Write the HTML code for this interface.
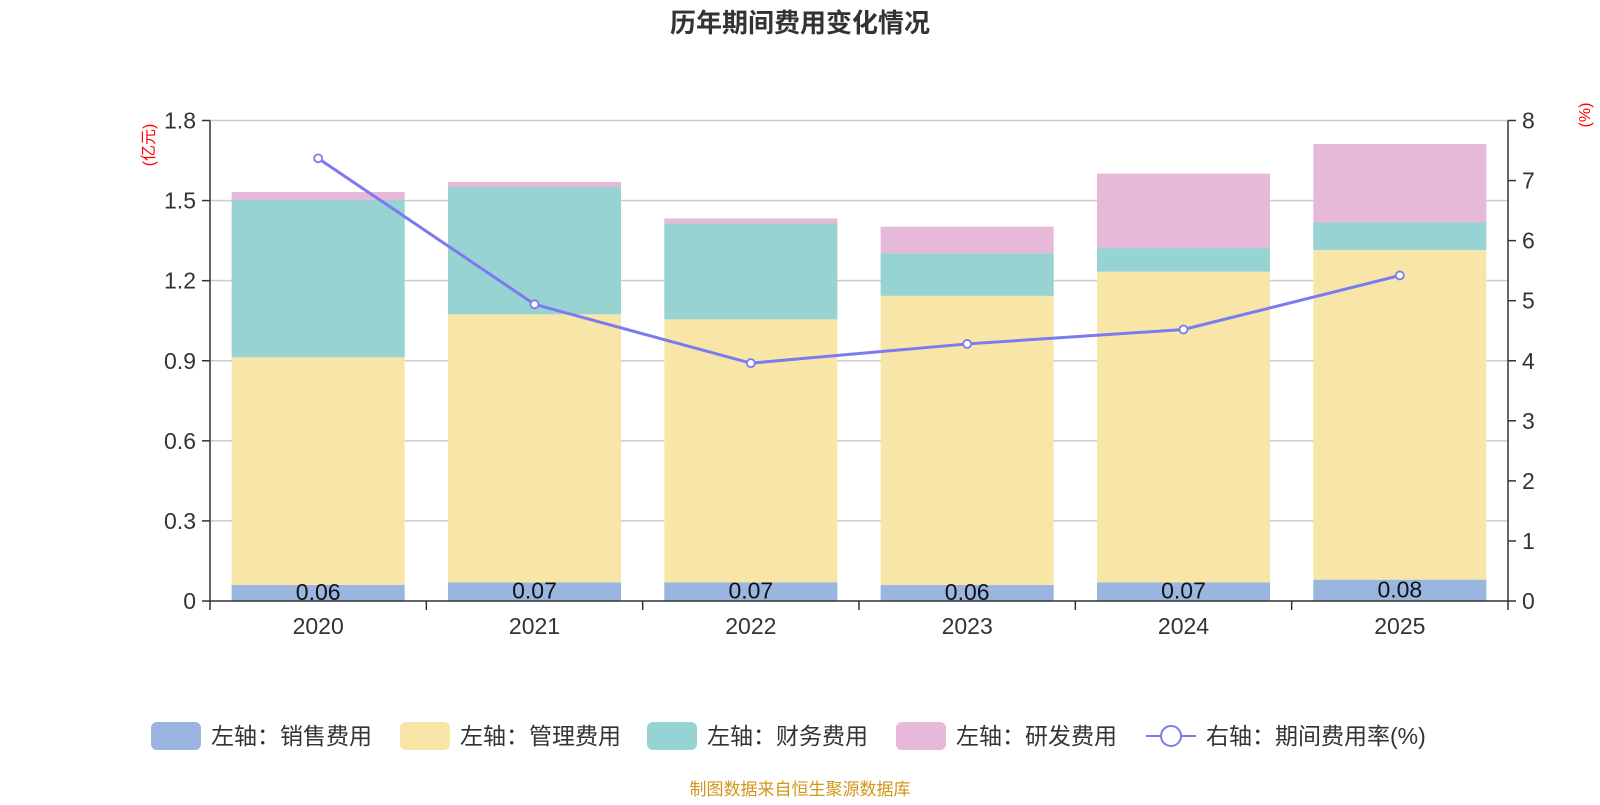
<!DOCTYPE html>
<html><head><meta charset="utf-8"><style>
body{margin:0;background:#fff;font-family:"Liberation Sans","Noto Sans CJK SC",sans-serif}
</style></head><body>
<svg id="c" width="1600" height="800" xmlns="http://www.w3.org/2000/svg">
<text x="800" y="32" text-anchor="middle" font-size="26" font-weight="bold" fill="#333" font-family="Liberation Sans,Noto Sans CJK SC,sans-serif">历年期间费用变化情况</text>
<text transform="translate(150,145) rotate(-90)" text-anchor="middle" font-size="16" fill="red" font-family="Liberation Sans,Noto Sans CJK SC,sans-serif" dominant-baseline="middle">(亿元)</text>
<text transform="translate(1586,115) rotate(-90)" text-anchor="middle" font-size="16" fill="red" font-family="Liberation Sans,Noto Sans CJK SC,sans-serif" dominant-baseline="middle">(%)</text>
<g id="grid"></g><g id="bars"></g><g id="axes"></g><g id="line"></g><g id="legend"></g>
<text x="800" y="795" text-anchor="middle" font-size="17" fill="#d4951a" font-family="Liberation Sans,Noto Sans CJK SC,sans-serif">制图数据来自恒生聚源数据库</text>
</svg>
<script>
const categories=["2020","2021","2022","2023","2024","2025"];
const sales=[0.06,0.07,0.07,0.06,0.07,0.08];
const mgmt=[0.853,1.004,0.985,1.083,1.164,1.235];
const fin=[0.589,0.477,0.359,0.16,0.088,0.103];
const rd=[0.03,0.019,0.019,0.099,0.279,0.294];
const rate=[7.37,4.94,3.96,4.28,4.52,5.42];
const leftTicks=[0,0.3,0.6,0.9,1.2,1.5,1.8];
const rightTicks=[0,1,2,3,4,5,6,7,8];
const NS="http://www.w3.org/2000/svg";
const X0=210,X1=1508,Y0=601,Y1=120.5;
const bw=(X1-X0)/categories.length;
const xc=i=>X0+bw*(i+0.5);
const yl=v=>Y0-(v/1.8)*(Y0-Y1);
const yr=v=>Y0-(v/8)*(Y0-Y1);
function mk(t,a,p){const e=document.createElementNS(NS,t);for(const k in a)e.setAttribute(k,a[k]);p.appendChild(e);return e;}
const F="Liberation Sans,Noto Sans CJK SC,sans-serif";
const grid=document.getElementById('grid'),axes=document.getElementById('axes'),bars=document.getElementById('bars'),line=document.getElementById('line'),leg=document.getElementById('legend');
leftTicks.forEach(v=>{
 if(v>0){const g=mk('line',{x1:X0,x2:X1,y1:yl(v),y2:yl(v),stroke:'#ccc','stroke-width':1.5},grid);
 
 }
 mk('line',{x1:X0-8,x2:X0,y1:yl(v),y2:yl(v),stroke:'#333','stroke-width':1.5},axes);
 const t=mk('text',{x:X0-14,y:yl(v)+8,'text-anchor':'end','font-size':23,fill:'#333','font-family':F},axes);t.textContent=v===0?'0':v.toFixed(1);
 
 
});
rightTicks.forEach(v=>{
 mk('line',{x1:X1,x2:X1+8,y1:yr(v),y2:yr(v),stroke:'#333','stroke-width':1.5},axes);
 const t=mk('text',{x:X1+14,y:yr(v)+8,'font-size':23,fill:'#333','font-family':F},axes);t.textContent=v;
 
 
});
mk('line',{x1:X0,x2:X0,y1:Y1,y2:Y0,stroke:'#333','stroke-width':1.5},axes);
mk('line',{x1:X1,x2:X1,y1:Y1,y2:Y0,stroke:'#333','stroke-width':1.5},axes);
mk('line',{x1:X0,x2:X1,y1:Y0,y2:Y0,stroke:'#333','stroke-width':1.5},axes);
for(let i=0;i<=categories.length;i++)mk('line',{x1:X0+bw*i,x2:X0+bw*i,y1:Y0,y2:Y0+9,stroke:'#333','stroke-width':1.5},axes);
categories.forEach((c,i)=>{const t=mk('text',{x:xc(i),y:Y0+33,'text-anchor':'middle','font-size':23,fill:'#333','font-family':F},axes);t.textContent=c;
 
 });
const series=[[sales,'#9ab6e0','sales-bar'],[mgmt,'#f7e6a8','mgmt-bar'],[fin,'#97d3d3','finance-bar'],[rd,'#e6b9d8','rd-bar']];
const w=bw*0.8;
categories.forEach((c,i)=>{let base=0;series.forEach(([arr,col,nm])=>{const top=base+arr[i];
 const r=mk('rect',{x:xc(i)-w/2,y:yl(top),width:w,height:yl(base)-yl(top),fill:col},bars);
 
 
 base=top;});
 const t=mk('text',{x:xc(i),y:yl(sales[i]/2)+7,'text-anchor':'middle','font-size':23,fill:'#111','font-family':F},bars);t.textContent=sales[i].toFixed(2);
 
 
});
const pl=mk('polyline',{points:rate.map((v,i)=>xc(i)+','+yr(v)).join(' '),fill:'none',stroke:'#7b7bf0','stroke-width':3},line);


rate.forEach((v,i)=>{const p=mk('circle',{cx:xc(i),cy:yr(v),r:4,fill:'#fff',stroke:'#7b7bf0','stroke-width':1.8},line);
 
 });
const items=[['#9ab6e0','左轴：销售费用',151],['#f7e6a8','左轴：管理费用',400],['#97d3d3','左轴：财务费用',647],['#e6b9d8','左轴：研发费用',896]];
items.forEach(([col,lab,x])=>{const g=mk('g',{},leg);
 
 
 mk('rect',{x:x,y:722,width:50,height:28,rx:6,fill:col},g);
 const t=mk('text',{x:x+60,y:744,'font-size':23,fill:'#333','font-family':F},g);t.textContent=lab;});
const g=mk('g',{},leg);


mk('line',{x1:1146,x2:1196,y1:736,y2:736,stroke:'#7b7bf0','stroke-width':2},g);
mk('circle',{cx:1171,cy:736,r:10,fill:'#fff',stroke:'#7b7bf0','stroke-width':2},g);
const t=mk('text',{x:1206,y:744,'font-size':23,fill:'#333','font-family':F},g);t.textContent='右轴：期间费用率(%)';
</script>
</body></html>
